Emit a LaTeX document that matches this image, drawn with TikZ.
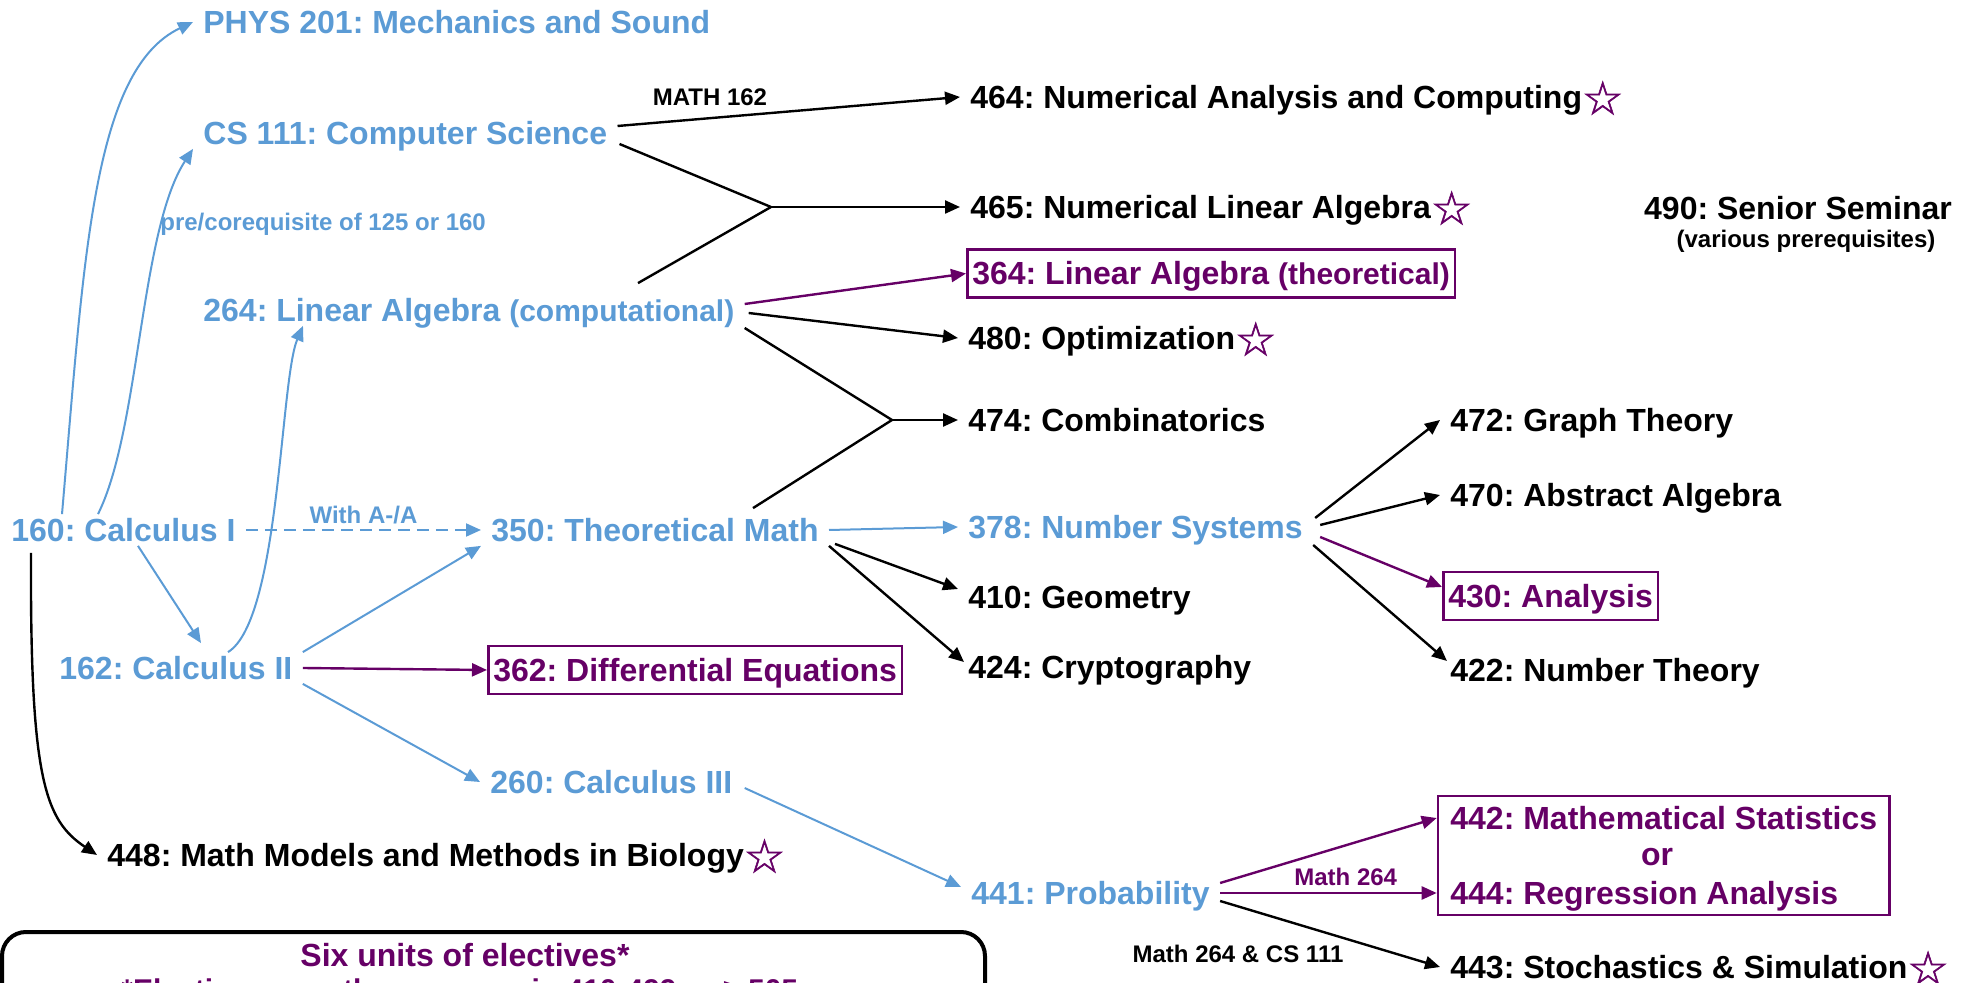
\documentclass[tikz,border=0pt]{standalone}
\usepackage{fontspec}
\setmainfont{Liberation Sans}
\newfontfamily\starfont[FakeBold=1.2]{DejaVu Sans}
\usetikzlibrary{arrows.meta,calc,fit}
\definecolor{cblue}{HTML}{5B9BD5}
\definecolor{cpurp}{HTML}{660066}
\frenchspacing
\newcommand{\electstar}{\raisebox{-3pt}{\color{cpurp}\starfont\fontsize{23}{23}\selectfont ☆}}
\newcommand{\paren}[1]{{\fontsize{15}{18}\selectfont #1}}

\begin{document}
\begin{tikzpicture}[x=0.5pt,y=-0.5pt,>={Triangle[length=7.5pt,width=6.5pt]}]
\tikzstyle{course}=[font=\bfseries\fontsize{16}{19}\selectfont,anchor=west,inner xsep=5pt,inner ysep=2pt,text height=11.5pt,text depth=0pt]
\tikzstyle{core}=[course,text=cblue]
\tikzstyle{req}=[course,draw=cpurp,text=cpurp,line width=1.3pt,inner xsep=2.5pt,inner ysep=6.3pt]
\tikzstyle{note}=[font=\bfseries\fontsize{12}{14}\selectfont,inner sep=0pt,text height=8.6pt,text depth=0pt]
\tikzstyle{bluearr}=[draw=cblue,line width=1pt,->]
\tikzstyle{purparr}=[draw=cpurp,line width=1.2pt,->]
\tikzstyle{blkarr}=[draw=black,line width=1.2pt,->]
\tikzstyle{blkline}=[draw=black,line width=1.2pt]

\useasboundingbox (0,0) rectangle (1977,983);

% lower division
\node[core] (phys201) at (193,22) {PHYS 201: Mechanics and Sound};
\node[core] (cs111) at (193,133) {CS 111: Computer Science};
\node[note,text=cblue,anchor=west] (prenote) at (160,222) {pre/corequisite of 125 or 160};
\node[core] (lin264) at (193,310) {264: Linear Algebra \paren{(computational)}};
\node[core] (calc160) at (1,530) {160: Calculus I};
\node[core] (calc162) at (49,668) {162: Calculus II};
\node[core] (theo350) at (481,530) {350: Theoretical Math};
\node[req] (de362) at (487,670) {362: Differential Equations};
\node[core] (calc260) at (480,782) {260: Calculus III};
\node[course] (bio448) at (97,855) {448: Math Models and Methods in Biology\electstar};
\node[core] (prob441) at (961,893) {441: Probability};

% upper division
\node[course] (num464) at (960,97) {464: Numerical Analysis and Computing\electstar};
\node[course] (num465) at (960,207) {465: Numerical Linear Algebra\electstar};
\node[req] (lin364) at (966,273.5) {364: Linear Algebra \paren{(theoretical)}};
\node[course] (opt480) at (958,338) {480: Optimization\electstar};
\node[course] (comb474) at (958,420) {474: Combinatorics};
\node[core] (ns378) at (958,527) {378: Number Systems};
\node[course] (geo410) at (958,597) {410: Geometry};
\node[course] (crypt424) at (958,667) {424: Cryptography};
\node[course] (graph472) at (1440,420) {472: Graph Theory};
\node[course] (alg470) at (1440,495) {470: Abstract Algebra};
\node[req] (ana430) at (1442,596) {430: Analysis};
\node[course] (nt422) at (1440,670) {422: Number Theory};
\node[course,anchor=center] (sem490) at (1798,208) {490: Senior Seminar};
\node[note,anchor=center] (sem490note) at (1806,239) {(various prerequisites)};
\node[course,text=cpurp] (stat442) at (1440,818) {442: Mathematical Statistics};
\node[course,text=cpurp,anchor=center] (or442) at (1657,854) {or};
\node[course,text=cpurp] (reg444) at (1440,893) {444: Regression Analysis};
\node[draw=cpurp,line width=1.3pt,inner xsep=1pt,inner ysep=3pt,fit=(stat442)(reg444)] (statbox) {};
\node[course] (stoch443) at (1440,967) {443: Stochastics \& Simulation\electstar};
\node[note,anchor=center] (sclabel) at (1238,954) {Math 264 \& CS 111};

\coordinate (j465) at (771,207);
\coordinate (j474) at (892,420);

% electives box
\draw[line width=2pt,rounded corners=12pt] (2,932) rectangle (985,1060);
\node[course,anchor=center,text=cpurp] (elect) at (465,955) {Six units of electives*};
\node[course,text=cpurp,font=\bfseries\fontsize{15}{18}\selectfont] (electnote) at (111,989) {*Electives are other courses in 410-499 or ≥ 505};

% from Calculus I
\draw[bluearr] ($(calc160.north west)+(61,0)$) .. controls (84,260) and (92,70) .. (phys201.west);
\draw[bluearr] ($(calc160.north west)+(97,0)$) .. controls (140,430) and (140,230) .. (cs111.south west);
\path ($(calc160.south west)+(137,0)$) edge[bluearr] ($(calc162.north west)+(152,-9)$);
\path (calc160.east) edge[bluearr,dash pattern=on 6pt off 3.5pt] node[note,above=2.7pt,text=cblue] {With A-/A} (theo350.west);
\draw[blkarr] ($(calc160.south west)+(30,7)$) .. controls (30,780) and (45,820) .. (bio448.west);

% from Calculus II
\draw[bluearr] ($(calc162.north west)+(179,0)$) .. controls (280,620) and (280,380) .. ($(lin264.south west)+(110,0)$);
\path (calc162.north east) edge[bluearr] (theo350.south west);
\path (calc162.east) edge[purparr] (de362.west);
\path (calc162.south east) edge[bluearr] (calc260.west);
\path ($(calc260.east)+(2,6)$) edge[bluearr] ($(prob441.west)+(0,-6)$);

% CS 111 and Linear Algebra
\path ($(cs111.east)+(0,-7)$) edge[blkarr] node[note,pos=0.27,above=5.7pt] {MATH 162} (num464.west);
\path ($(cs111.east)+(2,11)$) edge[blkline] (j465);
\path ($(lin264.north west)+(445,-11)$) edge[blkline] (j465);
\path (j465) edge[blkarr] (num465.west);
\path ($(lin264.east)+(0,-6)$) edge[purparr] (lin364.west);
\path ($(lin264.east)+(4,3)$) edge[blkarr] (opt480.west);
\path ($(lin264.east)+(0,18)$) edge[blkline] (j474);
\path ($(theo350.north west)+(272,-6)$) edge[blkline] (j474);
\path (j474) edge[blkarr] (comb474.west);

% Theoretical Math
\path (theo350.east) edge[bluearr] (ns378.west);
\path ($(theo350.south east)+(6,-2)$) edge[blkarr] ($(geo410.west)+(0,-8)$);
\path (theo350.south east) edge[blkarr] ($(crypt424.west)+(6,-5)$);

% Number Systems
\path ($(ns378.east)+(2,-9)$) edge[blkarr] (graph472.west);
\path ($(ns378.east)+(7,-2)$) edge[blkarr] (alg470.west);
\path ($(ns378.east)+(7,10)$) edge[purparr] ($(ana430.west)+(0,-9)$);
\path ($(ns378.east)+(0,18)$) edge[blkarr] ($(nt422.west)+(7,-9)$);

% Probability
\path ($(prob441.east)+(0,-10)$) edge[purparr] (statbox.west |- stat442);
\path (prob441.east) edge[purparr] node[note,pos=0.58,above=3.2pt,text=cpurp] {Math 264} (statbox.west |- reg444);
\path ($(prob441.east)+(0,8)$) edge[blkarr] (stoch443.west);

\end{tikzpicture}
\end{document}
